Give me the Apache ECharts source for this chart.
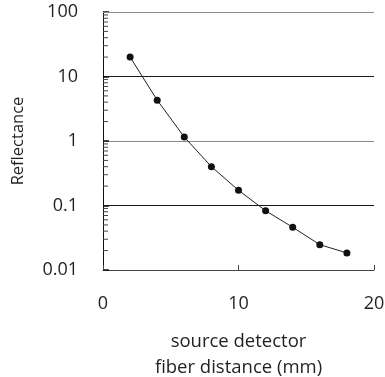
<!DOCTYPE html>
<html>
<head>
<meta charset="utf-8">
<script src="https://cdn.jsdelivr.net/npm/echarts@6/dist/echarts.min.js"></script>
<style>
  html, body { margin: 0; padding: 0; background: #fff; }
  #chart { width: 385px; height: 377px; }
</style>
</head>
<body>
<div id="chart"></div>
<script>
// Source–detector fiber distance (mm) and measured reflectance
const distances = [2, 4, 6, 8, 10, 12, 14, 16, 18];
const reflectance = [20, 4.3, 1.15, 0.40, 0.172, 0.083, 0.046, 0.0247, 0.0184];

// Axis ranges and labelled ticks
const xTicks = [0, 10, 20];
const yTicks = [0.01, 0.1, 1, 10, 100];

const FONT = '"Open Sans", "Noto Sans", sans-serif';
const TEXT = '#231f20';

// Minor log ticks (2..9 within each decade) for the left axis
const minorTicks = [];
for (let d = 0; d < yTicks.length - 1; d++) {
  for (let k = 2; k <= 9; k++) minorTicks.push([xTicks[0], yTicks[d] * k]);
}

function tickLabel(v) {
  const hit = yTicks.find(t => Math.abs(Math.log10(t) - Math.log10(v)) < 1e-6);
  return hit !== undefined ? String(hit) : '';
}

const chart = echarts.init(document.getElementById('chart'), null, { renderer: 'canvas' });

chart.setOption({
  animation: false,
  backgroundColor: '#fff',
  grid: { left: 103, right: 11, top: 12, bottom: 107, outerBoundsMode: 'none', containLabel: false },
  xAxis: {
    type: 'value',
    min: xTicks[0],
    max: xTicks[xTicks.length - 1],
    interval: 10,
    name: 'source detector\nfiber distance (mm)',
    nameLocation: 'middle',
    nameGap: 59,
    nameTextStyle: { fontFamily: FONT, fontSize: 18.5, color: TEXT, lineHeight: 26 },
    axisLine: { lineStyle: { color: '#444', width: 1 } },
    axisTick: { inside: true, length: 5, lineStyle: { color: '#444', width: 1 } },
    axisLabel: { margin: 25, fontFamily: FONT, fontSize: 18, color: TEXT, formatter: v => String(v) },
    splitLine: { show: false }
  },
  yAxis: {
    type: 'log',
    logBase: 10,
    min: yTicks[0],
    max: yTicks[yTicks.length - 1],
    name: 'Reflectance',
    nameLocation: 'middle',
    nameGap: 76,
    nameTextStyle: { fontFamily: FONT, fontSize: 16.5, color: TEXT },
    axisLine: { lineStyle: { color: '#111', width: 1 } },
    axisTick: { inside: true, length: 6, lineStyle: { color: '#111', width: 1.5 } },
    axisLabel: { margin: 25, fontFamily: FONT, fontSize: 18, color: TEXT, formatter: tickLabel },
    splitLine: {
      show: true,
      showMinLine: true,
      showMaxLine: true,
      lineStyle: { color: ['#8a8a8a', '#1a1a1a'], width: 1 }
    }
  },
  series: [
    {
      type: 'custom',
      name: 'minor ticks',
      silent: true,
      clip: false,
      z: 3,
      data: minorTicks,
      renderItem: function (params, api) {
        const p = api.coord([api.value(0), api.value(1)]);
        return {
          type: 'line',
          shape: { x1: p[0], y1: p[1], x2: p[0] + 5, y2: p[1] },
          style: { stroke: '#444', lineWidth: 1 }
        };
      }
    },
    {
      type: 'line',
      name: 'Reflectance',
      data: distances.map((x, i) => [x, reflectance[i]]),
      symbol: 'circle',
      symbolSize: 7,
      itemStyle: { color: '#111' },
      lineStyle: { color: '#222', width: 1 },
      z: 4,
      // top border line of the plot at the axis maximum
      markLine: {
        silent: true,
        symbol: 'none',
        label: { show: false },
        lineStyle: { type: 'solid', color: '#8a8a8a', width: 1 },
        data: [{ yAxis: yTicks[yTicks.length - 1] }]
      }
    }
  ]
});
</script>
</body>
</html>
